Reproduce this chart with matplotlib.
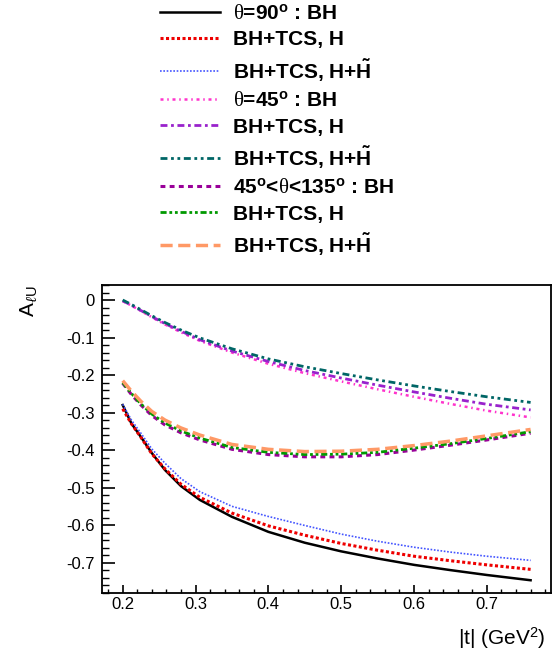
import matplotlib
matplotlib.use("Agg")
import matplotlib.pyplot as plt
from matplotlib.ticker import MultipleLocator

plt.rcParams['font.family'] = ['Liberation Sans', 'DejaVu Sans']
plt.rcParams['mathtext.fontset'] = 'custom'
plt.rcParams['mathtext.rm'] = 'Liberation Sans:bold'
plt.rcParams['mathtext.bf'] = 'Liberation Sans:bold'
plt.rcParams['mathtext.it'] = 'Liberation Serif:italic'
plt.rcParams['mathtext.cal'] = 'Liberation Serif'
plt.rcParams['mathtext.sf'] = 'Liberation Sans'

# |t| grid (GeV^2)
t = [0.2, 0.212, 0.225, 0.24, 0.258, 0.28, 0.306, 0.35, 0.4, 0.45, 0.5, 0.55, 0.6, 0.65, 0.7, 0.76]

# theta = 90 deg
bh90 = [-0.28, -0.329, -0.365, -0.408, -0.453, -0.496, -0.533, -0.578, -0.618, -0.647, -0.670, -0.689, -0.706, -0.720, -0.733, -0.747]
h90 = [-0.29, -0.33, -0.366, -0.41, -0.45, -0.491, -0.526, -0.568, -0.602, -0.627, -0.649, -0.667, -0.683, -0.695, -0.706, -0.718]
hht90 = [-0.278, -0.32, -0.355, -0.397, -0.435, -0.476, -0.511, -0.55, -0.577, -0.601, -0.624, -0.643, -0.659, -0.672, -0.683, -0.694]

# theta = 45 deg
bh45 = [-0.003, -0.015, -0.029, -0.046, -0.065, -0.086, -0.109, -0.14, -0.17, -0.195, -0.217, -0.238, -0.258, -0.277, -0.295, -0.313]
h45 = [-0.002, -0.014, -0.028, -0.044, -0.063, -0.083, -0.106, -0.136, -0.164, -0.188, -0.208, -0.227, -0.245, -0.262, -0.278, -0.293]
hht45 = [0.0, -0.012, -0.026, -0.042, -0.06, -0.08, -0.101, -0.13, -0.157, -0.178, -0.196, -0.213, -0.229, -0.244, -0.258, -0.273]

# 45 < theta < 135 deg
bhint = [-0.222, -0.252, -0.28, -0.308, -0.333, -0.354, -0.373, -0.398, -0.412, -0.418, -0.418, -0.412, -0.4, -0.387, -0.373, -0.355]
hint = [-0.22, -0.249, -0.277, -0.304, -0.328, -0.349, -0.368, -0.393, -0.406, -0.412, -0.411, -0.406, -0.395, -0.383, -0.369, -0.351]
hhtint = [-0.215, -0.243, -0.27, -0.297, -0.32, -0.341, -0.36, -0.385, -0.398, -0.404, -0.403, -0.398, -0.388, -0.376, -0.362, -0.345]

labels = [
    r'$\mathcal{\theta}$=90$^{\rm o}$ : BH',
    'BH+TCS, H',
    r'BH+TCS, H+$\tilde{\rm H}$',
    r'$\mathcal{\theta}$=45$^{\rm o}$ : BH',
    'BH+TCS, H',
    r'BH+TCS, H+$\tilde{\rm H}$',
    r'45$^{\rm o}$<$\mathcal{\theta}$<135$^{\rm o}$ : BH',
    'BH+TCS, H',
    r'BH+TCS, H+$\tilde{\rm H}$',
]

series = [bh90, h90, hht90, bh45, h45, hht45, bhint, hint, hhtint]
styles = [
    dict(color='black', lw=1.8, ls='-'),
    dict(color='#ee0000', lw=2.2, dashes=(1, 0.8)),
    dict(color='#4455ff', lw=1.2, dashes=(1, 1)),
    dict(color='#ff33cc', lw=1.8, dashes=(1.2, 1.5, 0.6, 1.5)),
    dict(color='#9922cc', lw=2.0, dashes=(2.5, 1.3, 1, 1.3)),
    dict(color='#006666', lw=2.0, dashes=(2.5, 1.3, 1, 1.3, 1, 1.3)),
    dict(color='#990099', lw=2.2, dashes=(1.6, 1.4)),
    dict(color='#009900', lw=2.0, dashes=(2.2, 1, 1, 1, 1, 1)),
    dict(color='#ff9966', lw=2.5, dashes=(3.5, 1.6)),
]

fig = plt.figure(figsize=(5.6, 6.57), dpi=100)
ax = fig.add_axes([102/560, 1-593/657, 449/560, 308/657])

handles = []
for y, st, lab in zip(series, styles, labels):
    ln, = ax.plot(t, y, label=lab, **st)
    handles.append(ln)

ax.set_xlim(0.1716, 0.788)
ax.set_ylim(-0.781, 0.04)
ax.xaxis.set_major_locator(MultipleLocator(0.1))
ax.xaxis.set_minor_locator(MultipleLocator(0.02))
ax.yaxis.set_major_locator(MultipleLocator(0.1))
ax.yaxis.set_minor_locator(MultipleLocator(0.02))
ax.xaxis.set_major_formatter(matplotlib.ticker.FuncFormatter(lambda v, p: f"{v:.1f}"))
ax.yaxis.set_major_formatter(matplotlib.ticker.FuncFormatter(lambda v, p: "0" if abs(v) < 1e-9 else f"{v:.1f}"))
ax.tick_params(axis='both', which='both', direction='in', top=False, right=False, labelsize=12)
ax.tick_params(axis='y', which='major', length=9, width=1.2, pad=5)
ax.tick_params(axis='y', which='minor', length=5, width=1.0)
ax.tick_params(axis='x', which='major', length=6, width=1.2, pad=3)
ax.tick_params(axis='x', which='minor', length=3, width=1.0)
for s in ax.spines.values():
    s.set_linewidth(1.3)

ax.set_ylabel(r'A$_{\ell\mathsf{U}}$', fontsize=15, loc='top')
ax.yaxis.set_label_coords(-0.14, 1.0)
ax.set_xlabel(r'|t| (GeV$^{\mathsf{2}}$)', fontsize=15, loc='right')
ax.xaxis.set_label_coords(0.988, -0.105)

fig.legend(handles=handles, loc='upper left', bbox_to_anchor=(160/560, 1 - 4/657),
           frameon=False, borderpad=0.0, borderaxespad=0.0, alignment='left',
           handlelength=2.9, handletextpad=0.62, labelspacing=0.36,
           prop={'family': 'Liberation Sans', 'weight': 'bold', 'size': 15})

fig.savefig('out.png', dpi=100)
